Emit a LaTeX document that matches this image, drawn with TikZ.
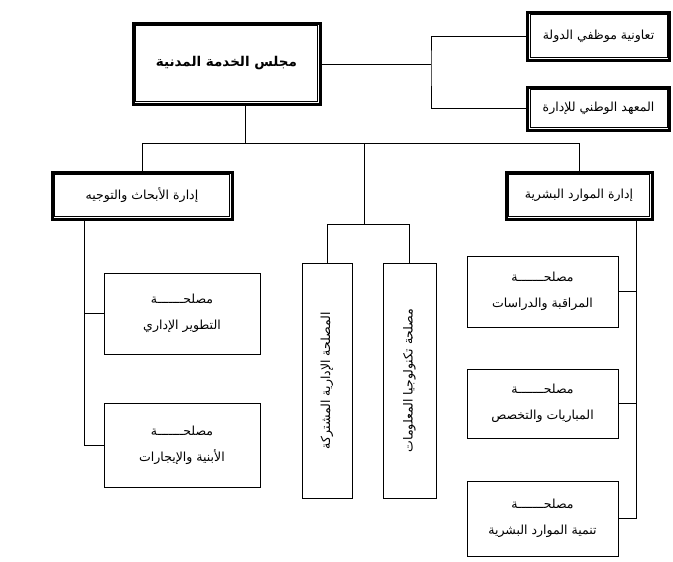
\documentclass[tikz,border=0pt]{standalone}
\usepackage{fontspec}
\newfontfamily\arabicfont[Script=Arabic]{DejaVu Sans}
\TeXXeTstate=1
\usetikzlibrary{calc}
\newcommand{\AR}[1]{\beginR #1\endR}
\begin{document}
\begin{tikzpicture}[x=1pt,y=-1pt,
  box/.style={draw, line width=0.7pt, inner sep=2pt, align=center, font=\arabicfont\fontsize{12.5}{26}\selectfont},
  thickbox/.style={box, line width=3pt},
  link/.style={line width=0.6pt}]
\useasboundingbox (0,0) rectangle (673,562);
% top
\node[thickbox, minimum width=187pt, minimum height=81pt, font=\arabicfont\fontsize{13.5}{20}\selectfont\bfseries] (council) at (226.5,63.5) {\AR{مجلس الخدمة المدنية}};
\node[thickbox, minimum width=142pt, minimum height=48pt] (coop) at (598.5,36) {\AR{تعاونية موظفي الدولة}};
\node[thickbox, minimum width=142pt, minimum height=43pt] (inst) at (598.5,108.5) {\AR{المعهد الوطني للإدارة}};
% departments
\node[thickbox, minimum width=180pt, minimum height=47pt] (ard) at (142,195.5) {\AR{إدارة الأبحاث والتوجيه}};
\node[thickbox, minimum width=146pt, minimum height=47pt] (hrd) at (579,195.5) {\AR{إدارة الموارد البشرية}};
% left services
\node[box, minimum width=156pt, minimum height=81pt] (l1) at (182,313.5) {\AR{مصلحـــــــة}\\\AR{التطوير الإداري}};
\node[box, minimum width=156pt, minimum height=84pt] (l2) at (182,445) {\AR{مصلحـــــــة}\\\AR{الأبنية والإيجارات}};
% middle
\node[box, minimum width=235pt, minimum height=50pt, rotate=90] (m1) at (327,380.5) {\AR{المصلحة الإدارية المشتركة}};
\node[box, minimum width=235pt, minimum height=53pt, rotate=90] (m2) at (409.5,380.5) {\AR{مصلحة تكنولوجيا المعلومات}};
% right services
\node[box, minimum width=151pt, minimum height=71pt] (r1) at (542.5,291.5) {\AR{مصلحـــــــة}\\\AR{المراقبة والدراسات}};
\node[box, minimum width=151pt, minimum height=69pt] (r2) at (542.5,403.5) {\AR{مصلحـــــــة}\\\AR{المباريات والتخصص}};
\node[box, minimum width=151pt, minimum height=75pt] (r3) at (542.5,518.5) {\AR{مصلحـــــــة}\\\AR{تنمية الموارد البشرية}};
% inner frames
\foreach \n in {council,coop,inst,ard,hrd}
  \draw[line width=0.6pt] ($(\n.north west)+(4,4)$) rectangle ($(\n.south east)+(-4,-4)$);
% connectors
\coordinate (j1) at (431,64);
\draw[link] (council.east |- j1) -- (j1);
\draw[link] (coop.west) -| (j1) |- (inst.west);
\coordinate (c1) at (245,143);
\draw[link] (c1 |- council.south) -- (c1);
\draw[link] (ard.north) -- (ard.north |- c1) -- (hrd.north |- c1) -- (hrd.north);
\coordinate (mt) at (364,143);
\coordinate (mb) at (364,224);
\draw[link] (mt) -- (mb);
\draw[link] (m1.east) -- (m1.east |- mb) -- (m2.east |- mb) -- (m2.east);
\coordinate (lv) at (84,450);
\draw[link] (ard.south -| lv) |- (l2.west);
\draw[link] (l1.west) -- (l1.west -| lv);
\coordinate (rv) at (636,520);
\draw[link] (hrd.south -| rv) |- (r3.east);
\draw[link] (r1.east) -- (r1.east -| rv);
\draw[link] (r2.east) -- (r2.east -| rv);
\end{tikzpicture}
\end{document}
